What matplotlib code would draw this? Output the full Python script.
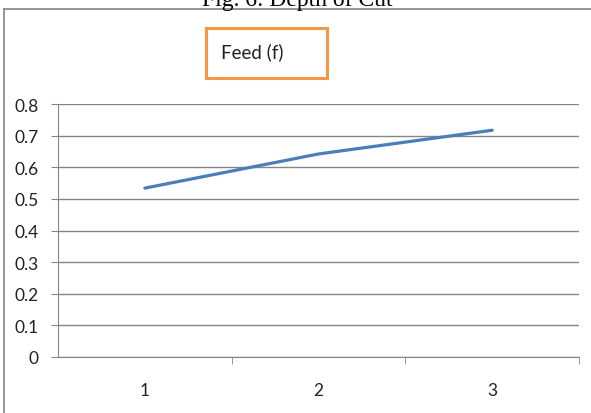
import matplotlib.pyplot as plt
from matplotlib.lines import Line2D
from matplotlib.patches import Rectangle

categories = [1, 2, 3]
feed = [0.534, 0.642, 0.717]
yticks = [0, 0.1, 0.2, 0.3, 0.4, 0.5, 0.6, 0.7, 0.8]
series_name = "Feed (f)"
caption = "Fig. 6: Depth of Cut"

W, H = 591, 414
fig = plt.figure(figsize=(W / 100, H / 100), dpi=100)
plt.rcParams['font.family'] = ['Lato', 'DejaVu Sans']

# caption cut off at top of the image
fig.text(297 / W, 1 - 6 / H, caption, ha='center', va='baseline',
         fontsize=17, family='Liberation Serif', color='black')

# outer chart frame
gray = '#8c8c8c'
fig.add_artist(Line2D([3.5 / W, 3.5 / W], [0, 1 - 10 / H], color=gray, lw=1.3))
fig.add_artist(Line2D([3.5 / W, 1], [1 - 10 / H, 1 - 10 / H], color=gray, lw=1.3))

ax = fig.add_axes([58 / W, 56 / H, 521 / W, 253 / H])
ax.plot(categories, feed, color='#4a7ebb', lw=2.3, solid_capstyle='round')
ax.set_xlim(0.5, 3.5)
ax.set_ylim(0, 0.8)
ax.set_yticks(yticks)
ax.set_yticklabels([('%g' % v) for v in yticks])
ax.set_xticks(categories)
ax.set_xticklabels([str(c) for c in categories])
ax.set_xticks([1.5, 2.5, 3.5], minor=True)
ax.yaxis.grid(True, color='#868686', lw=1)
ax.set_axisbelow(True)
for s in ['top', 'right']:
    ax.spines[s].set_visible(False)
ax.spines['left'].set_color('#868686')
ax.spines['bottom'].set_color('#868686')
ax.tick_params(axis='y', length=5, color='#868686', labelsize=12.5, pad=9,
               labelcolor='#222222')
ax.tick_params(axis='x', which='major', length=0, labelsize=12.5, pad=18,
               labelcolor='#222222')
ax.tick_params(axis='x', which='minor', length=5, color='#868686')

# legend box
fig.add_artist(Rectangle((206 / W, 1 - 79 / H), 121 / W, 50 / H, fill=False,
                         edgecolor='#f79646', lw=2.2))
fig.text(221 / W, 1 - 52 / H, series_name, ha='left', va='center',
         fontsize=13.5, color='#222222')

fig.savefig('out.png', dpi=100)
